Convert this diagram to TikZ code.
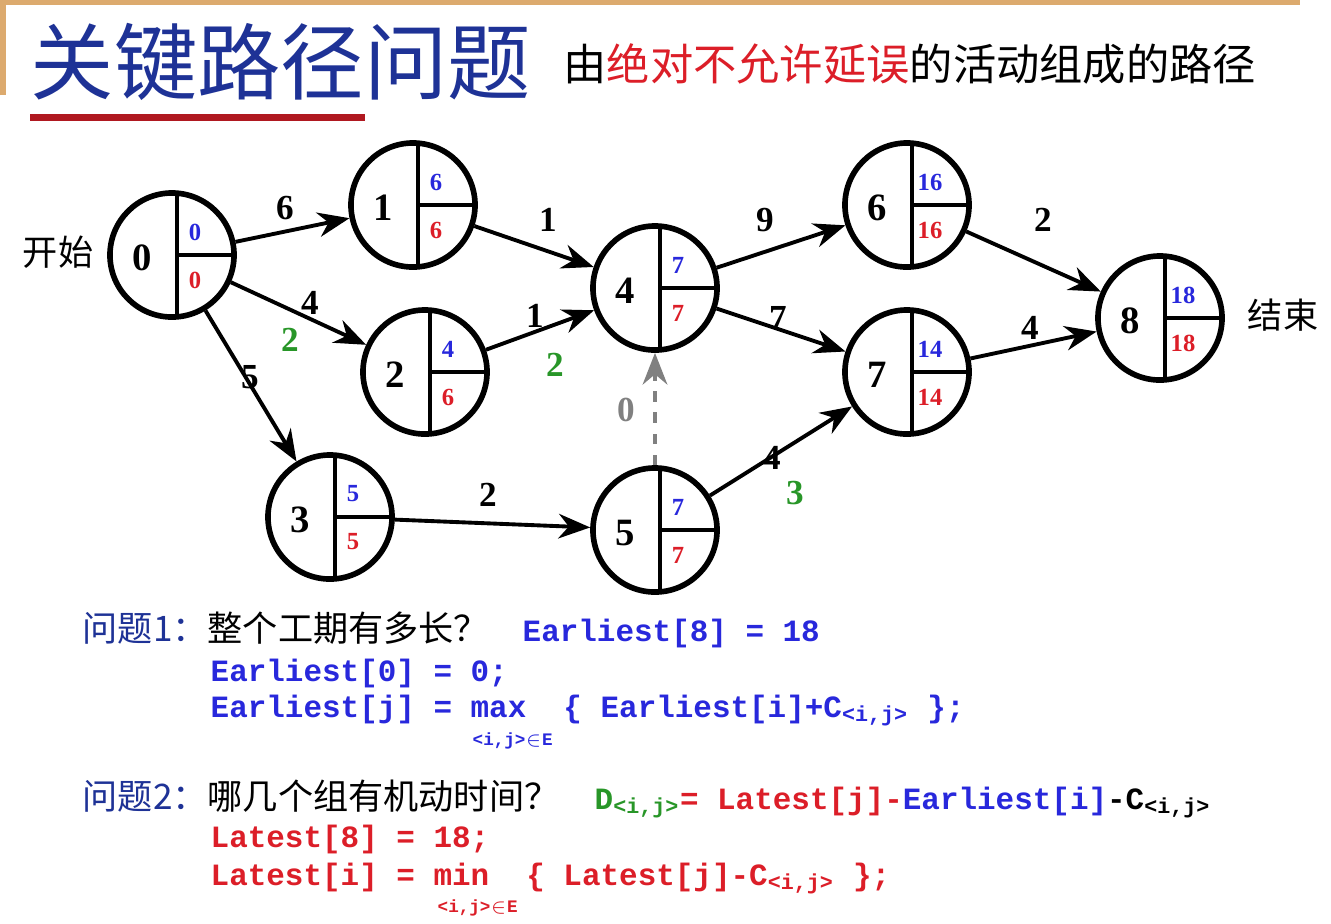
\documentclass[tikz,border=0pt]{standalone}
\usepackage{fontspec}
\setmainfont{Liberation Serif}
\setmonofont{Liberation Mono}
\newfontfamily\cjk{Noto Sans CJK SC}
\usetikzlibrary{arrows.meta}
\definecolor{tblue}{RGB}{30,50,150}
\definecolor{vblue}{RGB}{40,40,220}
\definecolor{vred}{RGB}{220,30,40}
\definecolor{vgreen}{RGB}{40,150,40}
\tikzset{
  ev/.style={circle,draw,line width=1.6pt,minimum size=1.24cm,inner sep=0pt},
  arr/.style={-{Stealth[length=9pt,width=7pt]},line width=1.1pt},
  wt/.style={font=\bfseries\fontsize{10}{10}\selectfont},
  sl/.style={font=\bfseries\fontsize{10}{10}\selectfont,text=vgreen},
  code/.style={anchor=base west,inner sep=0pt,font=\ttfamily\bfseries\fontsize{8.8}{10}\selectfont},
  cn/.style={anchor=base west,inner sep=0pt,font=\cjk\fontsize{10}{10}\selectfont}
}
\newcommand\evnode[6]{%
  \node[ev] (#1) at (#2,#3) {};
  \draw[line width=1.3pt] (#2+5,#3-62) -- (#2+5,#3+62);
  \draw[line width=1.3pt] (#2+5,#3) -- (#2+62,#3);
  \node[font=\bfseries\fontsize{11}{11}\selectfont] at (#2-30,#3+3) {#4};
  \node[font=\bfseries\fontsize{7}{7}\selectfont,text=vblue] at (#2+23,#3-23) {#5};
  \node[font=\bfseries\fontsize{7}{7}\selectfont,text=vred] at (#2+23,#3+25) {#6};
}
\newcommand\inE{<i,j>$\in$E}
\begin{document}
\begin{tikzpicture}[x=0.01cm,y=-0.01cm]
\useasboundingbox (0,0) rectangle (1331,923);
\fill[white] (0,0) rectangle (1331,923);
\draw[color={rgb,255:red,220;green,170;blue,110},line width=1.5pt] (3,95) -- (3,2) -- (1300,2);
\node[anchor=base west,inner sep=0pt,font=\cjk\fontsize{23.7}{24}\selectfont,text=tblue] (title) at (30,93) {关键路径问题};
\fill[vred!80!black] (30,114) rectangle (365,121);
\node[anchor=base west,inner sep=0pt,font=\cjk\fontsize{12.3}{12}\selectfont] (sub) at (563,80) {由\textcolor{vred}{绝对不允许延误}的活动组成的路径};
\evnode{n0}{172}{255}{0}{0}{0}
\evnode{n1}{413}{205}{1}{6}{6}
\evnode{n2}{425}{372}{2}{4}{6}
\evnode{n3}{330}{517}{3}{5}{5}
\evnode{n4}{655}{288}{4}{7}{7}
\evnode{n5}{655}{530}{5}{7}{7}
\evnode{n6}{907}{205}{6}{16}{16}
\evnode{n7}{907}{372}{7}{14}{14}
\evnode{n8}{1160}{318}{8}{18}{18}
\node[font=\cjk\fontsize{10}{10}\selectfont] (ks) at (58,252) {开始};
\node[font=\cjk\fontsize{10}{10}\selectfont] (js) at (1283,315) {结束};
\draw[arr] (n0) -- (n1);
\draw[arr] (n0) -- (n2);
\draw[arr] (n0) -- (n3);
\draw[arr] (n1) -- (n4);
\draw[arr] (n2) -- (n4);
\draw[arr] (n3) -- (n5);
\draw[arr] (n4) -- (n6);
\draw[arr] (n4) -- (n7);
\draw[arr] (n5) -- (n7);
\draw[arr] (n6) -- (n8);
\draw[arr] (n7) -- (n8);
\draw[arr,gray,dashed] (n5) -- (n4);
\node[wt] at (285,208) {6};
\node[wt] at (310,303) {4}; \node[sl] at (290,340) {2};
\node[wt] at (250,377) {5};
\node[wt] at (548,220) {1};
\node[wt] at (535,316) {1}; \node[sl] at (555,365) {2};
\node[wt] at (488,495) {2};
\node[wt] at (765,220) {9};
\node[wt] at (778,318) {7};
\node[wt] at (772,458) {4}; \node[sl] at (795,493) {3};
\node[wt] at (1043,220) {2};
\node[wt] at (1030,328) {4};
\node[wt,text=gray] at (626,410) {0};
% formulas
\node[cn] (q1) at (82,641) {\textcolor{tblue}{问题1：}整个工期有多长？};
\node[code,text=vblue] (f1) at (522,641) {Earliest[8] = 18};
\node[code,text=vblue] (f2) at (210,681) {Earliest[0] = 0;};
\node[code,text=vblue] (f3) at (210,717) {Earliest[j] = max\hspace{1.2em}\{ Earliest[i]+C\textsubscript{<i,j>} \};};
\node[code,text=vblue,font=\ttfamily\bfseries\fontsize{5}{5}\selectfont] (s1) at (472,745) {\inE};
\node[cn] (q2) at (82,809) {\textcolor{tblue}{问题2：}哪几个组有机动时间？};
\node[code] (f4) at (594,809) {\textcolor{vgreen}{D\textsubscript{<i,j>}}\textcolor{vred}{= Latest[j]-}\textcolor{vblue}{Earliest[i]}-C\textsubscript{<i,j>}};
\node[code,text=vred] (f5) at (210,847) {Latest[8] = 18;};
\node[code,text=vred] (f6) at (210,885) {Latest[i] = min\hspace{1.2em}\{ Latest[j]-C\textsubscript{<i,j>} \};};
\node[code,text=vred,font=\ttfamily\bfseries\fontsize{5}{5}\selectfont] (s2) at (437,912) {\inE};
\end{tikzpicture}
\end{document}
